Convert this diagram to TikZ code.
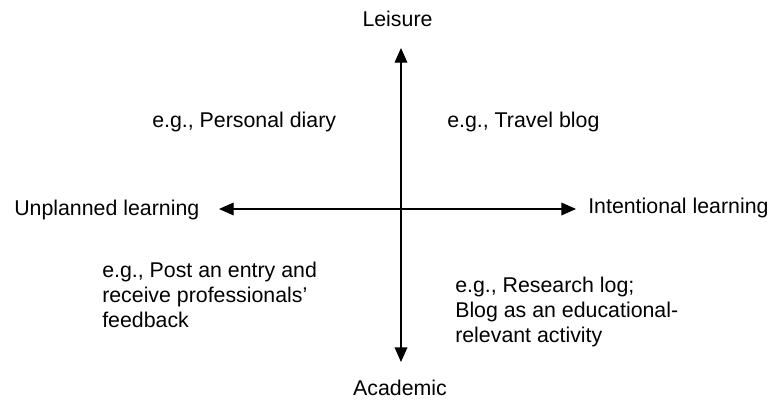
\documentclass[tikz,border=0pt]{standalone}
\usepackage{fontspec}
\setmainfont{Liberation Sans}
\usetikzlibrary{arrows.meta}
\begin{document}
\begin{tikzpicture}[x=0.75pt,y=-0.75pt,
 lbl/.style={font=\fontsize{16}{18.4}\selectfont, inner sep=0pt, anchor=base west, align=left},
 axis/.style={line width=1pt, {Triangle[length=11pt,width=9.5pt]}-{Triangle[length=11pt,width=9.5pt]}}]
\useasboundingbox (0,0) rectangle (773,401);
\coordinate (top) at (401,48);
\coordinate (bot) at (401,362);
\coordinate (lft) at (219,209);
\coordinate (rgt) at (576,209);
\draw[axis] (top) -- (bot);
\draw[axis] (lft) -- (rgt);
\node[lbl, anchor=base] (leis) at (397.5,26.7) {Leisure};
\node[lbl, anchor=base] (acad) at (400,395) {Academic};
\node[lbl] (unpl) at (14,215) {Unplanned learning};
\node[lbl] (intl) at (588,213) {Intentional learning};
\node[lbl] (pd) at (152,127) {e.g., Personal diary};
\node[lbl] (tb) at (447,127) {e.g., Travel blog};
\node[lbl] (pe) at (102,327) {e.g., Post an entry and\\receive professionals’\\feedback};
\node[lbl] (rl) at (455,342) {e.g., Research log;\\Blog as an educational-\\relevant activity};
\end{tikzpicture}
\end{document}
